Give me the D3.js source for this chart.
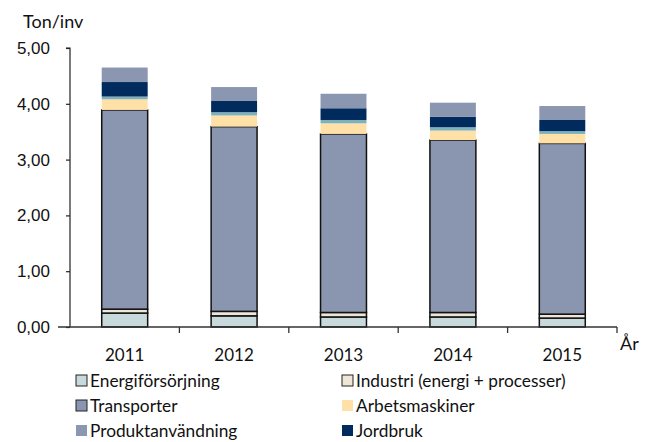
<!DOCTYPE html>
<html>
<head>
<meta charset="utf-8">
<script src="https://cdn.jsdelivr.net/npm/d3@7"></script>
<style>
  body { margin: 0; background: #fff; }
  svg { display: block; font-family: Lato, "Open Sans", sans-serif; }
</style>
</head>
<body>
<svg id="chart" width="647" height="442"></svg>
<script>
// Emissions per inhabitant by sector, ton CO2e / inv
const years = ["2011", "2012", "2013", "2014", "2015"];
const energi      = [0.25, 0.20, 0.18, 0.18, 0.16];
const industri    = [0.07, 0.08, 0.08, 0.08, 0.07];
const transporter = [3.57, 3.31, 3.20, 3.09, 3.06];
const arbets      = [0.19, 0.20, 0.19, 0.17, 0.17];
const avfall      = [0.05, 0.06, 0.06, 0.06, 0.05];
const jordbruk    = [0.26, 0.20, 0.21, 0.19, 0.20];
const produkt     = [0.26, 0.25, 0.26, 0.25, 0.25];
const yTicks = [0, 1, 2, 3, 4, 5];

const series = [
  { key: "Energiförsörjning", values: energi, fill: "#c7d9db", stroke: true },
  { key: "Industri (energi + processer)", values: industri, fill: "#eee6d6", stroke: true },
  { key: "Transporter", values: transporter, fill: "#8a95b0", stroke: true },
  { key: "Arbetsmaskiner", values: arbets, fill: "#ffe1a8", stroke: false },
  { key: "Avfall", values: avfall, fill: "#7fb1bd", stroke: false, hideLegend: true },
  { key: "Jordbruk", values: jordbruk, fill: "#002b5c", stroke: false },
  { key: "Produktanvändning", values: produkt, fill: "#8b96b0", stroke: false }
];

const svg = d3.select("#chart");
const x0 = 70, x1 = 617, yTop = 48, yBase = 327;

const x = d3.scaleBand().domain(years).range([x0, x1]).paddingInner(0.58).paddingOuter(0.29);
const y = d3.scaleLinear().domain([0, 5]).range([yBase, yTop]);

// stacked data
const rows = years.map((yr, i) => {
  const r = { year: yr };
  series.forEach(s => r[s.key] = s.values[i]);
  return r;
});
const stacked = d3.stack().keys(series.map(s => s.key))(rows);

const g = svg.append("g");
stacked.forEach((layer, li) => {
  const s = series[li];
  g.append("g")
    .selectAll("rect")
    .data(layer)
    .join("rect")
    .attr("x", d => x(d.data.year))
    .attr("width", x.bandwidth())
    .attr("y", d => y(d[1]))
    .attr("height", d => y(d[0]) - y(d[1]))
    .attr("fill", s.fill)
    .attr("stroke", s.stroke ? "#111" : "none")
    .attr("stroke-width", s.stroke ? 1.5 : 0);
});

// y axis
const yAxis = d3.axisLeft(y).tickValues(yTicks).tickSize(4)
  .tickFormat(d => d3.format(".2f")(d).replace(".", ","));
const ya = svg.append("g").attr("transform", `translate(${x0},0)`).call(yAxis);
ya.select(".domain").attr("stroke", "#222").attr("stroke-width", 1.2).attr("d", `M-4,${yTop}H0V${yBase}`);
ya.selectAll(".tick line").attr("stroke", "#222").attr("stroke-width", 1.2);
ya.selectAll(".tick text").attr("x", -20).attr("font-size", 17).attr("fill", "#111");

// x axis with ticks at category boundaries
svg.append("line").attr("x1", 58).attr("x2", x1).attr("y1", yBase).attr("y2", yBase)
  .attr("stroke", "#333").attr("stroke-width", 1.3);
const bounds = d3.range(1, years.length + 1).map(i => x0 + i * (x1 - x0) / years.length);
svg.append("g").selectAll("line").data(bounds).join("line")
  .attr("x1", d => d).attr("x2", d => d).attr("y1", yBase).attr("y2", yBase + 6)
  .attr("stroke", "#333").attr("stroke-width", 1.3);
svg.append("g").selectAll("text").data(years).join("text")
  .attr("x", d => x(d) + x.bandwidth() / 2).attr("y", 361)
  .attr("text-anchor", "middle").attr("font-size", 17).attr("fill", "#111")
  .text(d => d);

// axis titles
svg.append("text").attr("x", 23).attr("y", 28).attr("font-size", 18).attr("fill", "#111").text("Ton/inv");
svg.append("text").attr("x", 620).attr("y", 350).attr("font-size", 18).attr("fill", "#111").text("År");

// legend
const legendItems = series.filter(s => !s.hideLegend);
const order = ["Energiförsörjning", "Industri (energi + processer)", "Transporter", "Arbetsmaskiner", "Produktanvändning", "Jordbruk"];
const lg = svg.append("g");
order.forEach((k, i) => {
  const s = legendItems.find(t => t.key === k);
  const col = i % 2, row = Math.floor(i / 2);
  const lx = col === 0 ? 76 : 342;
  const ly = 375 + row * 25;
  lg.append("rect").attr("x", lx).attr("y", ly).attr("width", 11).attr("height", 11)
    .attr("fill", s.fill)
    .attr("stroke", s.stroke ? "#222" : "none").attr("stroke-width", 1);
  lg.append("text").attr("x", lx + 14).attr("y", ly + 11.5).attr("font-size", 17.3).attr("fill", "#111").text(s.key);
});
</script>
</body>
</html>
